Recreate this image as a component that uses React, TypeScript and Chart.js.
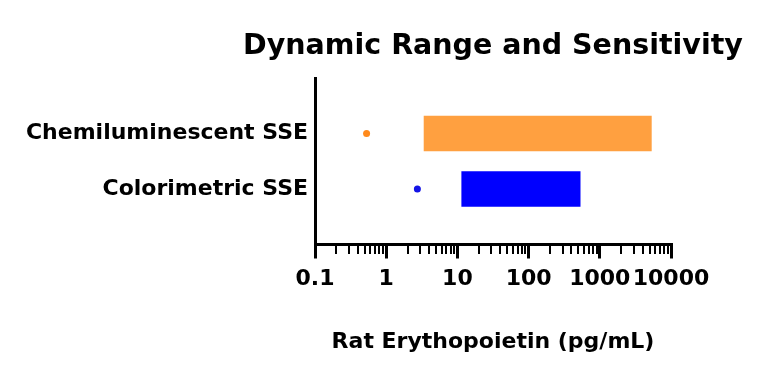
import React, { useEffect, useRef } from 'react';
import { Chart, registerables } from 'chart.js';

Chart.register(...registerables);

const TITLE = 'Dynamic Range and Sensitivity';
const X_TITLE = 'Rat Erythopoietin (pg/mL)';
const CATEGORIES = ['', 'Chemiluminescent SSE', 'Colorimetric SSE', ''];
const RANGE_LOW: (number | null)[] = [null, 3.4, 11.5, null];
const RANGE_HIGH: (number | null)[] = [null, 5300, 530, null];
const SENSITIVITY: (number | null)[] = [null, 0.53, 2.74, null];
const BAR_COLORS = ['#ffffff', '#FFA040', '#0000FF', '#ffffff'];
const DOT_COLORS = ['#ffffff', '#FF8A1C', '#1414E6', '#ffffff'];
const MAJOR_TICKS = [0.1, 1, 10, 100, 1000, 10000];
const TICK_LABELS = ['0.1', '1', '10', '100', '1000', '10000'];

const FONT = '"DejaVu Sans", sans-serif';

const majorIndex = (v: number) => MAJOR_TICKS.findIndex((m) => Math.abs(m - v) / m < 1e-9);

const titlePlugin = {
  id: 'topTitle',
  afterDraw(chart: any) {
    const { ctx, chartArea } = chart;
    ctx.save();
    ctx.font = `bold 28.5px ${FONT}`;
    ctx.fillStyle = '#000';
    ctx.textAlign = 'center';
    ctx.textBaseline = 'middle';
    ctx.fillText(TITLE, (chartArea.left + chartArea.right) / 2, 47);
    ctx.restore();
  },
};

export default function App() {
  const ref = useRef<HTMLCanvasElement>(null);
  useEffect(() => {
    document.body.style.margin = '0';
    const rangeData = CATEGORIES.map((_, i) =>
      RANGE_LOW[i] == null || RANGE_HIGH[i] == null ? null : [RANGE_LOW[i], RANGE_HIGH[i]]
    );
    const chart = new Chart(ref.current!, {
      type: 'bar',
      data: {
        labels: CATEGORIES,
        datasets: [
          {
            type: 'bar',
            label: 'Dynamic range',
            data: rangeData as any,
            backgroundColor: BAR_COLORS,
            borderWidth: 0,
            barThickness: 35,
            indexAxis: 'y',
            order: 2,
          } as any,
          {
            type: 'line',
            label: 'Sensitivity',
            data: SENSITIVITY as any,
            showLine: false,
            pointRadius: 3.5,
            pointHoverRadius: 3.5,
            pointBackgroundColor: DOT_COLORS,
            pointBorderWidth: 0,
            indexAxis: 'y',
            order: 1,
          } as any,
        ],
      },
      plugins: [titlePlugin],
      options: {
        indexAxis: 'y',
        animation: false,
        responsive: true,
        maintainAspectRatio: false,
        layout: { padding: { top: 78, right: 97, left: 0, bottom: 0 } },
        plugins: { legend: { display: false }, tooltip: { enabled: false }, title: { display: false } },
        scales: {
          x: {
            type: 'logarithmic',
            min: 0.1,
            max: 10000,
            afterBuildTicks: (scale: any) => {
              const t: any[] = [];
              MAJOR_TICKS.forEach((m, i) => {
                if (i === MAJOR_TICKS.length - 1) {
                  t.push({ value: m, major: true });
                } else {
                  for (let k = 1; k <= 9; k++) t.push({ value: m * k, major: k === 1 });
                }
              });
              scale.ticks = t;
            },
            afterFit: (scale: any) => {
              scale.height = 132.5;
            },
            ticks: {
              autoSkip: false,
              maxRotation: 0,
              minRotation: 0,
              padding: 8,
              color: '#000',
              font: { family: FONT, weight: 'bold', size: 22 },
              callback: (value: any) => {
                const i = majorIndex(Number(value));
                return i >= 0 ? TICK_LABELS[i] : '';
              },
            },
            grid: {
              display: true,
              drawOnChartArea: false,
              drawTicks: true,
              tickLength: 14,
              offset: false,
              color: '#000',
              lineWidth: (c: any) => (c.tick && majorIndex(c.tick.value) >= 0 ? 3 : 2),
              tickBorderDash: (c: any) => (c.tick && majorIndex(c.tick.value) >= 0 ? [] : [8, 100]),
            },
            border: { display: true, color: '#000', width: 3 },
            title: {
              display: true,
              text: X_TITLE,
              color: '#000',
              font: { family: FONT, weight: 'bold', size: 22 },
              padding: { top: 0, bottom: 22 },
            },
          } as any,
          y: {
            type: 'category',
            offset: false,
            afterFit: (scale: any) => {
              scale.width = 315;
            },
            grid: { display: false, drawTicks: false },
            border: { display: true, color: '#000', width: 3 },
            ticks: {
              color: '#000',
              padding: 7,
              autoSkip: false,
              font: { family: FONT, weight: 'bold', size: 22 },
            },
          } as any,
        },
      },
    });
    return () => chart.destroy();
  }, []);
  return (
    <div style={{ position: 'fixed', left: 0, top: 0, width: 768, height: 377, background: '#fff' }}>
      <canvas ref={ref} />
    </div>
  );
}
